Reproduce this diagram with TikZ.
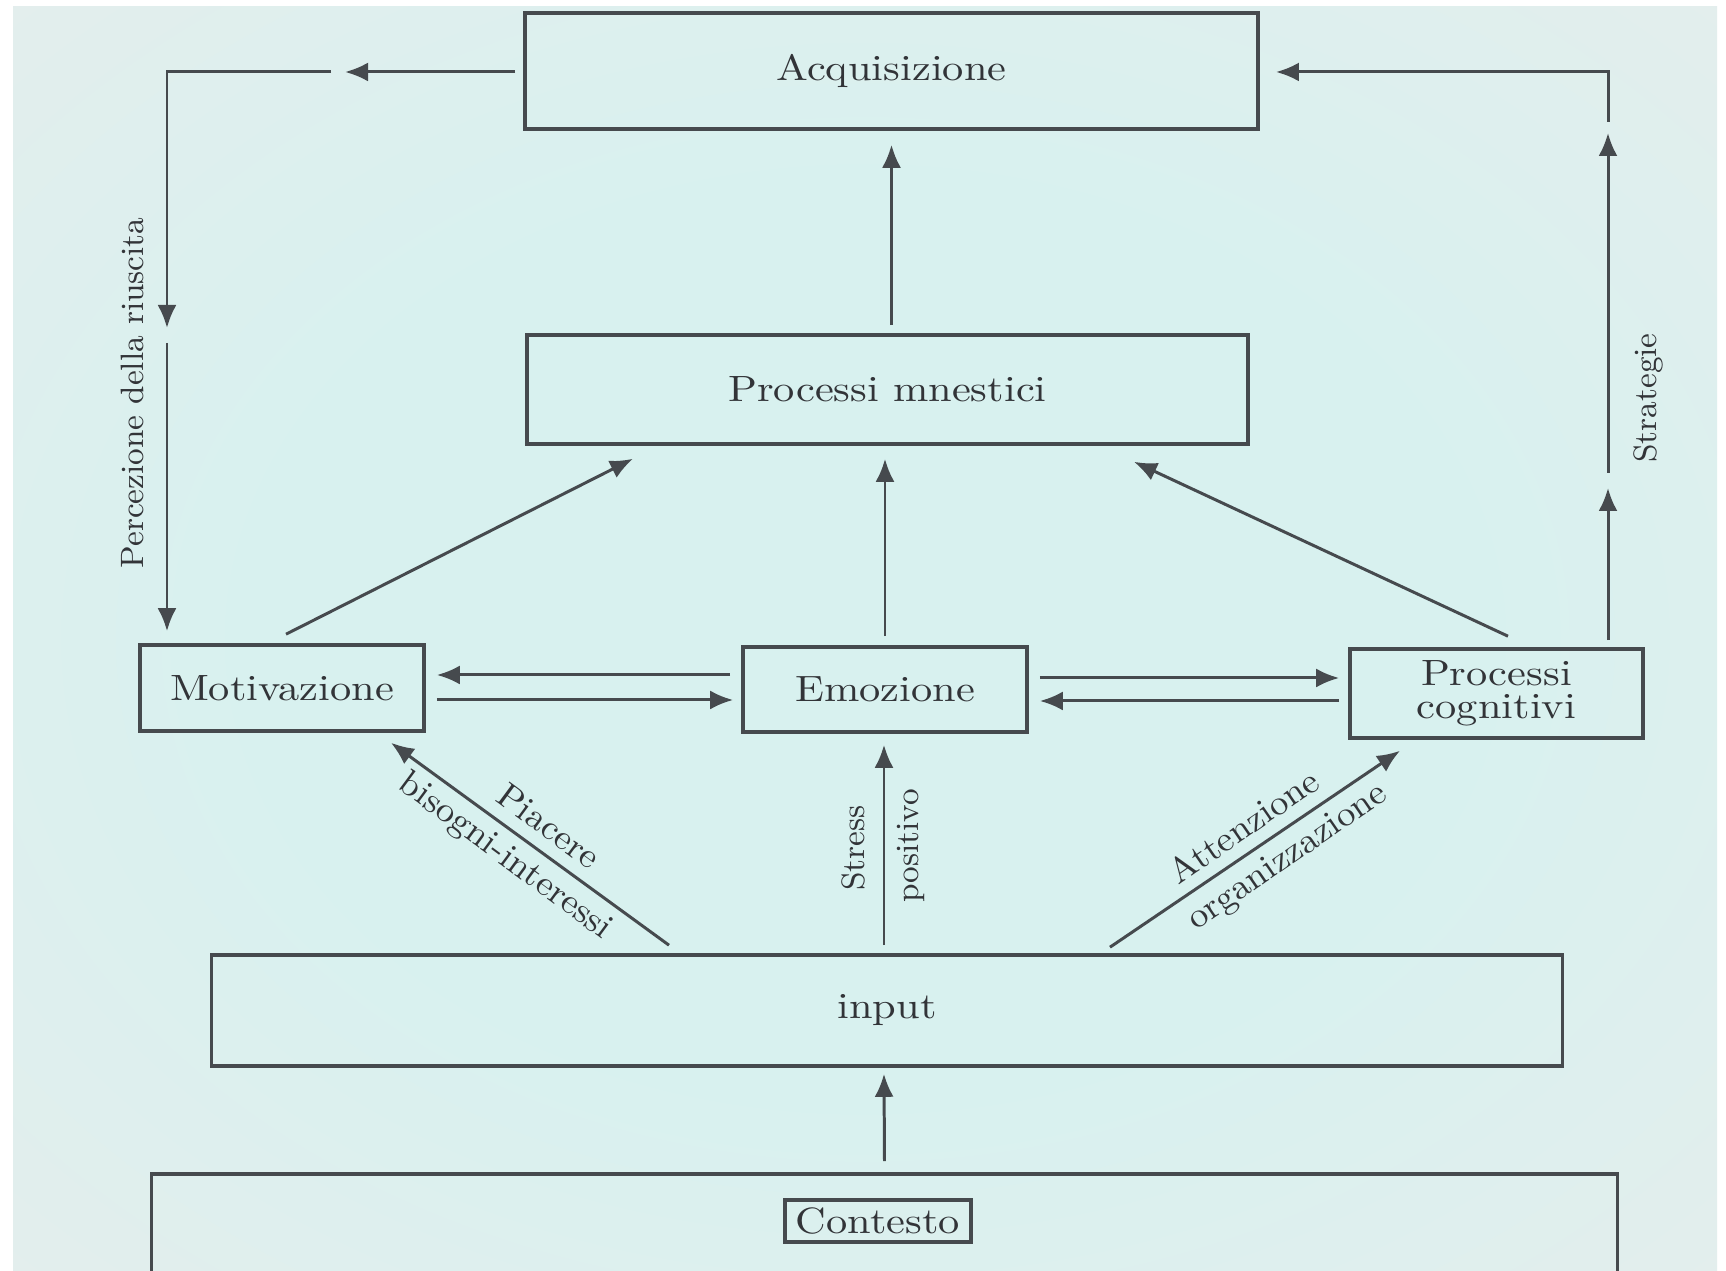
\documentclass[tikz,border=0pt]{standalone}
\usepackage{fontspec}
\newfontfamily\boxfont[FakeStretch=1.16]{lmroman10-regular.otf}
\newfontfamily\labfont[FakeStretch=1.05]{lmroman10-regular.otf}
\usetikzlibrary{arrows.meta,calc}
\definecolor{bgin}{RGB}{216,241,239}
\definecolor{bgmid}{RGB}{226,238,237}
\definecolor{bgout}{RGB}{236,232,238}
\definecolor{ink}{RGB}{70,74,78}
\definecolor{txt}{RGB}{50,52,56}
\pgfdeclareradialshading{bgshade}{\pgfpoint{0bp}{0bp}}{color(0bp)=(bgin); color(18bp)=(bgin); color(34bp)=(bgmid); color(50bp)=(bgout); color(75bp)=(bgout)}
\begin{document}
\begin{tikzpicture}[x=0.01cm,y=-0.01cm,
  box/.style={draw=ink, line width=1pt, inner sep=0pt, text=txt,
    font=\boxfont\fontsize{10.4}{9.5}\selectfont, align=center},
  arr/.style={draw=ink, line width=0.85pt, -{Latex[length=0.23cm,width=0.19cm]}},
  vlab/.style={text=txt, font=\fontsize{9.2}{10}\selectfont, inner sep=0pt},
  dlab/.style={text=txt, font=\labfont\fontsize{10}{11}\selectfont, inner sep=0pt}]
\useasboundingbox (0,0) rectangle (1726,1271);
\fill[white] (0,0) rectangle (1726,1271);
\shade[shading=bgshade] (13,7) rectangle (1717,1271);

% boxes
\node[box, minimum width=7.33cm, minimum height=1.16cm] (acq) at (891.5,71) {Acquisizione};
\node[box, minimum width=7.21cm, minimum height=1.09cm] (mn) at (887.5,389.5) {Processi mnestici};
\node[box, minimum width=2.84cm, minimum height=0.86cm] (mot) at (282,688) {Motivazione};
\node[box, minimum width=2.84cm, minimum height=0.85cm] (emo) at (885,689.5) {Emozione};
\node[box, minimum width=2.93cm, minimum height=0.89cm] (pc) at (1496.5,693.5) {Processi\\cognitivi};
\node[box, minimum width=13.50cm, minimum height=1.11cm] (inp) at (887,1010.5) {input};
\node[box, minimum width=14.65cm, minimum height=2.00cm] (ctx) at (884.5,1274) {};
\node[box, minimum width=1.86cm, minimum height=0.42cm] (ctxl) at (878,1221) {Contesto};

% vertical flow
\draw[arr] ($(mn.north -| acq.south)+(0,-8)$) -- ($(acq.south)+(0,14)$);
\draw[arr] ($(emo.north)+(0,-9)$) -- ($(emo.north |- mn.south)+(0,13)$);
\draw[arr] ($(mot.north)+(4,-9)$) -- ($(mn.south west)+(108,13)$);
\draw[arr] ($(pc.north)+(11.5,-11)$) -- ($(mn.south east)+(-116,16)$);

% horizontal pairs
\draw[arr] ($(emo.west)+(-11,-14.5)$) -- ($(mot.east)+(11,-13)$);
\draw[arr] ($(mot.east)+(11,12)$) -- ($(emo.west)+(-8,10.5)$);
\draw[arr] ($(emo.east)+(11,-11.5)$) -- ($(pc.west)+(-9,-15.5)$);
\draw[arr] ($(pc.west)+(-9,7.5)$) -- ($(emo.east)+(11,11.5)$);

% from input
\draw[arr] ($(inp.north)+(-218,-8)$) -- ($(mot.south)+(109,10)$);
\draw[arr] ($(inp.north)+(-3,-8)$) -- ($(emo.south)+(-1,11)$);
\draw[arr] ($(inp.north)+(223,-6)$) -- ($(pc.south)+(-96.5,11)$);
\draw[arr] ($(ctx.north)+(0,-11)$) -- ($(inp.south)+(-3,6)$);

% left feedback loop
\coordinate (lc) at (167,72);
\draw[arr] ($(acq.west)+(-8,1)$) -- ($(acq.west)+(-178,1)$);
\draw[arr] ($(acq.west)+(-192,1)$) -- (lc) -- ($(lc)+(0,256)$);
\draw[arr] ($(lc)+(0,271)$) -- ($(lc |- mot.north)+(0,-12)$);

% right feedback loop
\coordinate (rc) at (1608,72);
\draw[arr] ($(rc |- pc.north)+(0,-7)$) -- ($(rc)+(0,416)$);
\draw[arr] ($(rc)+(0,401)$) -- ($(rc)+(0,61)$);
\draw[arr] ($(rc)+(0,50)$) -- (rc) -- ($(acq.east)+(16,1)$);

% labels
\node[vlab, rotate=90] (lperc) at (132,393) {Percezione della riuscita};
\node[vlab, rotate=90] (lstrat) at (1648,398) {Strategie};
\node[vlab, rotate=90] (lstress) at (853,848) {Stress};
\node[vlab, rotate=90] (lpos) at (911,846) {positivo};
\node[dlab, rotate=-36.5] (lpiac) at (549,826) {Piacere};
\node[dlab, rotate=-36.5] (lbis) at (505,857) {bisogni-interessi};
\node[dlab, rotate=34.6] (latt) at (1243,826) {Attenzione};
\node[dlab, rotate=34.6] (lorg) at (1288,858) {organizzazione};
\end{tikzpicture}
\end{document}
